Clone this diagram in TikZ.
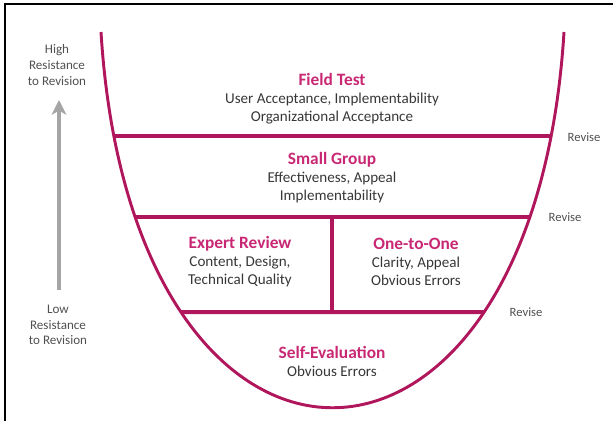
\documentclass[tikz,border=0pt]{standalone}
\usepackage{fontspec}
\setmainfont{Carlito}
\usetikzlibrary{intersections,arrows.meta}
\definecolor{lineM}{RGB}{176,22,92}
\definecolor{titleM}{RGB}{200,40,115}
\definecolor{bodyG}{RGB}{55,55,55}
\definecolor{sideG}{RGB}{80,80,80}
\definecolor{arrowG}{RGB}{165,165,165}
\newcommand{\stitle}[1]{{\bfseries\color{titleM}\fontsize{13}{14}\selectfont #1}}
\begin{document}
\begin{tikzpicture}[x=0.75pt,y=-0.75pt,
  level/.style={draw=lineM,line width=3pt},
  cupline/.style={draw=lineM,line width=2.2pt},
  stage/.style={align=center,font=\fontsize{11.3}{13.5}\selectfont,text=bodyG,inner sep=0pt},
  revise/.style={font=\fontsize{9.5}{10}\selectfont,text=sideG,inner sep=0pt},
  side/.style={align=center,font=\fontsize{9.8}{11.8}\selectfont,text=sideG,inner sep=0pt}]
\useasboundingbox (0,0) rectangle (613,421);
% frame
\draw[line width=1.5pt] (5,421) -- (5,4) -- (613,4);
% cup
\path[cupline,name path=cup] (101,32) .. controls (132,533) and (533,533) .. (564,32);
% levels
\path[name path=h1] (0,136) -- (613,136);
\path[name path=h2] (0,217) -- (613,217);
\path[name path=h3] (0,312) -- (613,312);
\path[name intersections={of=cup and h1,by={a1,b1}}];
\path[name intersections={of=cup and h2,by={a2,b2}}];
\path[name intersections={of=cup and h3,by={a3,b3}}];
\draw[level] (a1) -- (b1);
\draw[level] (a2) -- (b2);
\draw[level] (a3) -- (b3);
\coordinate (d1) at (332,217);
\coordinate (d2) at (332,312);
\draw[level] (d1) -- (d2);
% texts
\node[stage] (ft) at (332,99) {\stitle{Field Test}\\User Acceptance, Implementability\\Organizational Acceptance};
\node[stage] (sg) at (332,178) {\stitle{Small Group}\\Effectiveness, Appeal\\Implementability};
\node[stage] (er) at (240,262) {\stitle{Expert Review}\\Content, Design,\\Technical Quality};
\node[stage] (oo) at (416,262) {\stitle{One-to-One}\\Clarity, Appeal\\Obvious Errors};
\node[stage] (se) at (332,361) {\stitle{Self-Evaluation}\\Obvious Errors};
% revise
\node[revise] (r1) at (584,137) {Revise};
\node[revise] (r2) at (565,217) {Revise};
\node[revise] (r3) at (526,312) {Revise};
% side
\node[side] (hi) at (57,65) {High\\Resistance\\to Revision};
\node[side] (lo) at (58,325) {Low\\Resistance\\to Revision};
\coordinate (atail) at (59,290);
\coordinate (ahead) at (59,100);
\draw[arrowG,line width=3pt,-{Stealth[length=11pt,width=11pt,inset=3pt]}] (atail) -- (ahead);
\end{tikzpicture}
\end{document}
